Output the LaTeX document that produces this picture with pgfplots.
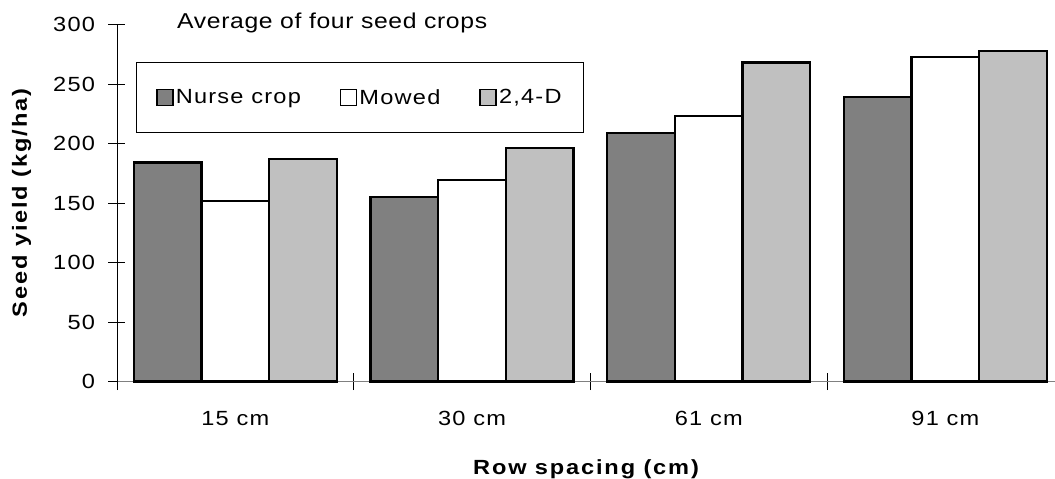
\documentclass[border=0pt]{standalone}
\usepackage{fontspec}
\setmainfont{Liberation Sans}[FakeStretch=1.15, LetterSpace=6]
\newfontfamily\labfont{Liberation Sans}[FakeStretch=1.15, LetterSpace=9]
\newfontfamily\ttlfont{Liberation Sans}[FakeStretch=1.15, LetterSpace=3]
\usepackage{pgfplots}
\pgfplotsset{compat=1.18}
\definecolor{nurse}{HTML}{808080}
\definecolor{mowed}{HTML}{FFFFFF}
\definecolor{dfour}{HTML}{C0C0C0}

\begin{document}
\begin{tikzpicture}
\begin{axis}[
    scale only axis, width=938pt, height=357pt,
    xmin=-0.5, xmax=3.463, ymin=0, ymax=300,
    axis lines*=left,
    x axis line style={draw=gray, line width=1.4pt},
    y axis line style={draw=black, line width=0.9pt},
    ytick={0,50,...,300},
    xtick={-0.5,0.5,1.5,2.5}, xticklabels={},
    extra x ticks={0,1,2,3},
    extra x tick labels={15 cm,30 cm,61 cm,91 cm},
    extra x tick style={major tick length=0pt, tick style={draw=none}},
    tick align=center, major tick length=17pt,
    tick style={black, line width=0.8pt},
    /pgf/number format/assume math mode=true,
    tick label style={font=\fontsize{20.5}{24}\selectfont},
    yticklabel style={xshift=-10pt},
    xticklabel style={yshift=-26pt},
    xlabel={\labfont\bfseries\fontsize{20.5}{24}\selectfont Row spacing (cm)},
    ylabel={\labfont\bfseries\fontsize{20.5}{24}\selectfont Seed yield (kg/ha)},
    xlabel style={yshift=-19pt},
    ylabel style={yshift=15pt},
    legend columns=3,
    legend style={at={(0.02,0.895)}, anchor=north west, draw=black, line width=0.8pt,
        inner xsep=20pt, inner ysep=25pt,
        font=\fontsize{20.5}{24}\selectfont,
        /tikz/every even column/.append style={column sep=37pt}},
    legend image code/.code={\draw[#1, draw=black, line width=1.6pt] (0pt,-8pt) rectangle (16pt,8pt);},
    clip=false,
]
\addplot[ybar, bar width=0.286, bar shift=-0.286, fill=nurse, draw=black, line width=2.2pt]
    coordinates {(0,184) (1,155) (2,209) (3,239)};
\addplot[ybar, bar width=0.286, bar shift=0, fill=mowed, draw=black, line width=2.2pt]
    coordinates {(0,152) (1,169) (2,223) (3,273)};
\addplot[ybar, bar width=0.286, bar shift=0.286, fill=dfour, draw=black, line width=2.2pt]
    coordinates {(0,187) (1,196) (2,268) (3,278)};
\legend{Nurse crop,Mowed,{2,4-D}}
\node[anchor=base west, inner sep=0pt, font=\ttlfont\fontsize{21.5}{25}\selectfont]
    at (rel axis cs:0.064,0.989) {Average of four seed crops};
\end{axis}
\pgfresetboundingbox
\path (current axis.south west) ++(-117pt,-97.5pt) rectangle ++(1055pt,479pt);
\end{tikzpicture}
\end{document}
